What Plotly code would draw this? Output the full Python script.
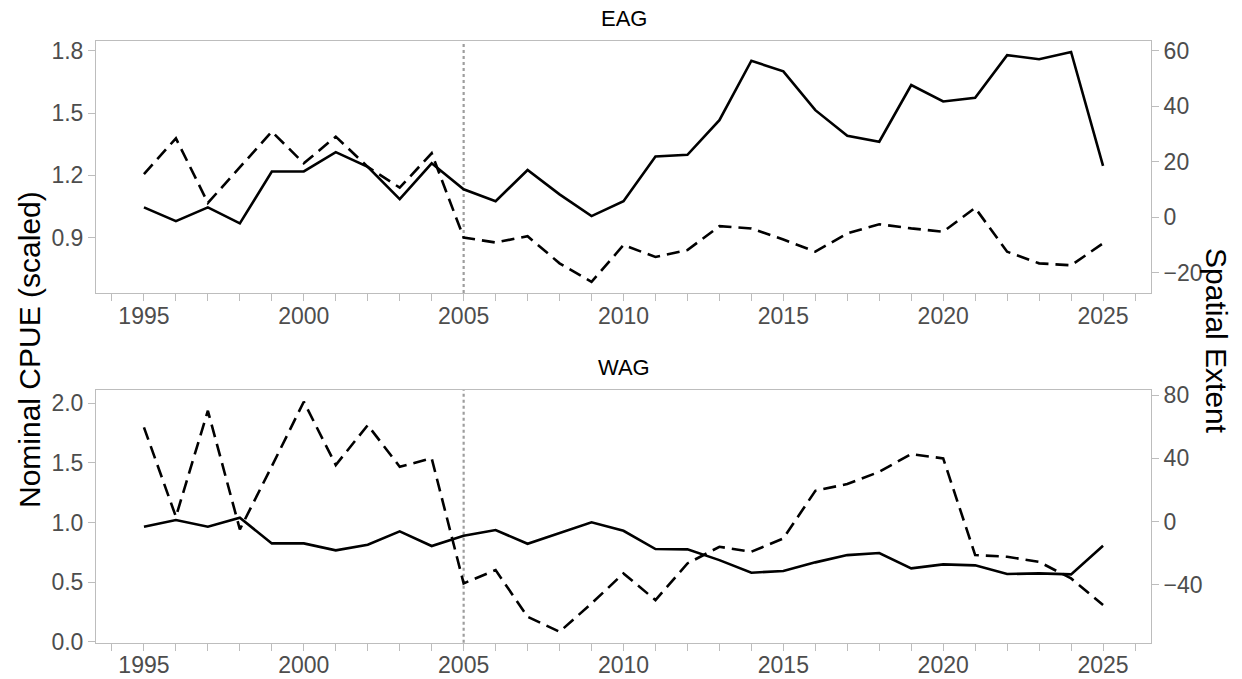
import plotly.graph_objects as go

years = list(range(1995, 2026))

eag_cpue = [1.046, 0.980, 1.046, 0.969, 1.219, 1.219, 1.312, 1.241, 1.086, 1.258,
            1.133, 1.076, 1.226, 1.109, 1.004, 1.076, 1.291, 1.299, 1.466, 1.752,
            1.701, 1.514, 1.391, 1.362, 1.635, 1.556, 1.574, 1.779, 1.759, 1.794, 1.246]
eag_extent = [15.6, 28.5, 5.2, 18.2, 30.9, 19.5, 29.1, 18.2, 10.7, 23.1,
              -7.3, -9.1, -6.8, -16.6, -23.3, -10.0, -14.3, -11.8, -3.2, -4.0,
              -8.0, -12.4, -5.8, -2.5, -4.0, -5.2, 3.4, -12.4, -16.6, -17.3, -9.4]
wag_cpue = [0.965, 1.021, 0.965, 1.040, 0.825, 0.825, 0.767, 0.814, 0.926, 0.803,
            0.889, 0.937, 0.822, 0.909, 1.002, 0.931, 0.778, 0.775, 0.685, 0.579,
            0.593, 0.666, 0.727, 0.744, 0.616, 0.649, 0.641, 0.568, 0.574, 0.565, 0.805]
wag_extent = [59.6, 3.1, 70.1, -4.9, 35.0, 75.8, 35.8, 61.0, 34.7, 40.0,
              -39.0, -30.6, -60.1, -69.6, -51.7, -32.7, -49.6, -26.4, -15.9, -19.0,
              -10.6, 19.5, 23.8, 31.5, 42.7, 40.0, -21.1, -22.2, -25.4, -35.9, -52.7]

panel_titles = ["EAG", "WAG"]
left_title = "Nominal CPUE (scaled)"
right_title = "Spatial Extent"
x_ticks = [1995, 2000, 2005, 2010, 2015, 2020, 2025]
break_year = 2005

W, H = 1242, 679
FONT = "Liberation Sans, Arial, sans-serif"
GRID = "#bdbdbd"
TXT = "#4d4d4d"
TICK_SIZE = 23

fig = go.Figure()

solid = dict(color="black", width=2.6)
dashed = dict(color="black", width=2.6, dash="13px,7px")

fig.add_trace(go.Scatter(x=years, y=eag_cpue, mode="lines", line=solid, xaxis="x", yaxis="y", showlegend=False))
fig.add_trace(go.Scatter(x=years, y=eag_extent, mode="lines", line=dashed, xaxis="x", yaxis="y2", showlegend=False))
fig.add_trace(go.Scatter(x=years, y=wag_cpue, mode="lines", line=solid, xaxis="x2", yaxis="y3", showlegend=False))
fig.add_trace(go.Scatter(x=years, y=wag_extent, mode="lines", line=dashed, xaxis="x2", yaxis="y4", showlegend=False))

xd = [96 / W, 1151 / W]
top_dom = [1 - 293 / H, 1 - 41 / H]
bot_dom = [1 - 642.7 / H, 1 - 390 / H]

xcommon = dict(range=[1993.5, 2026.5], tickvals=x_ticks, ticks="outside", ticklen=7,
               tickcolor=GRID, tickwidth=1, showgrid=False, zeroline=False,
               showline=True, linecolor=GRID, linewidth=1, mirror=True, automargin=False,
               ticklabelstandoff=-5,
               tickfont=dict(family=FONT, size=TICK_SIZE, color=TXT),
               minor=dict(dtick=1, tick0=1994, ticks="outside", ticklen=7, tickcolor=GRID, showgrid=False))

ycommon = dict(ticks="outside", ticklen=7, tickcolor=GRID, tickwidth=1, showgrid=False,
               zeroline=False, automargin=False, tickfont=dict(family=FONT, size=TICK_SIZE, color=TXT))

fig.update_layout(
    width=W, height=H,
    margin=dict(l=0, r=0, t=0, b=0, autoexpand=False),
    plot_bgcolor="white", paper_bgcolor="white",
    xaxis=dict(domain=xd, anchor="y", **xcommon),
    xaxis2=dict(domain=xd, anchor="y3", **xcommon),
    yaxis=dict(domain=top_dom, anchor="x", range=[0.634, 1.847],
               tickvals=[0.9, 1.2, 1.5, 1.8], ticktext=["0.9", "1.2", "1.5", "1.8"],
               showline=True, linecolor=GRID, linewidth=1, mirror=True, **ycommon),
    yaxis2=dict(overlaying="y", side="right", anchor="x", range=[-27.3, 63.6],
                tickvals=[-20, 0, 20, 40, 60], showline=False, **ycommon),
    yaxis3=dict(domain=bot_dom, anchor="x2", range=[-0.008, 2.112],
                tickvals=[0, 0.5, 1.0, 1.5, 2.0], ticktext=["0.0", "0.5", "1.0", "1.5", "2.0"],
                showline=True, linecolor=GRID, linewidth=1, mirror=True, **ycommon),
    yaxis4=dict(overlaying="y3", side="right", anchor="x2", range=[-76.5, 83.2],
                tickvals=[-40, 0, 40, 80], showline=False, **ycommon),
)

for xr, yr in (("x", "y domain"), ("x2", "y3 domain")):
    fig.add_shape(type="line", xref=xr, yref=yr, x0=break_year, x1=break_year, y0=0, y1=1,
                  line=dict(color="#9e9e9e", width=2.2, dash="dot"), layer="below")

fig.add_annotation(text=panel_titles[0], x=0.5 * (xd[0] + xd[1]), y=1 - 18 / H, xref="paper", yref="paper",
                   showarrow=False, font=dict(family=FONT, size=22, color="black"), yanchor="middle")
fig.add_annotation(text=panel_titles[1], x=0.5 * (xd[0] + xd[1]), y=1 - 367 / H, xref="paper", yref="paper",
                   showarrow=False, font=dict(family=FONT, size=22, color="black"), yanchor="middle")
fig.add_annotation(text=left_title, x=30 / W, y=1 - 350 / H, xref="paper", yref="paper",
                   showarrow=False, textangle=-90, font=dict(family=FONT, size=30, color="black"),
                   xanchor="center", yanchor="middle")
fig.add_annotation(text=right_title, x=1217 / W, y=1 - 341 / H, xref="paper", yref="paper",
                   showarrow=False, textangle=90, font=dict(family=FONT, size=30, color="black"),
                   xanchor="center", yanchor="middle")

fig.write_html("out.html", config={"displayModeBar": False},
               post_script="document.body.style.margin='0';")
